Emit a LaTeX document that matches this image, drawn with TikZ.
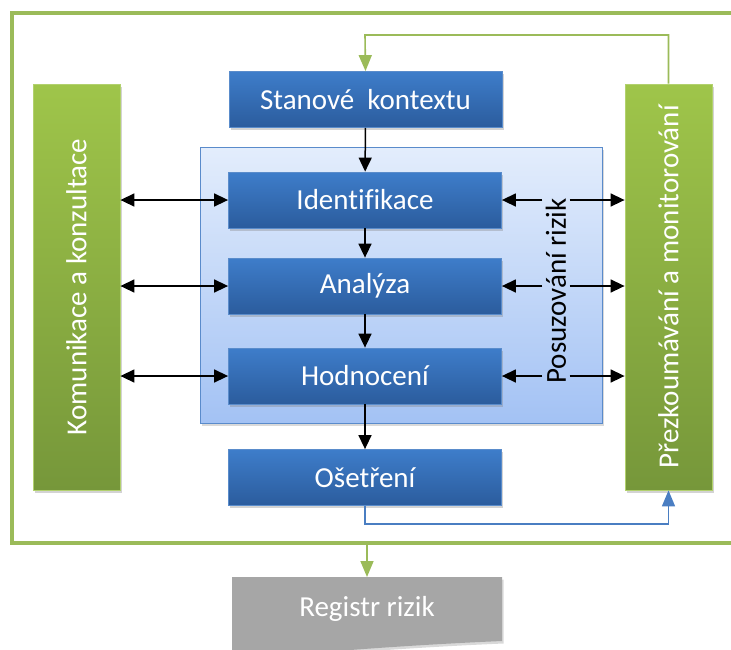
\documentclass[tikz,border=0pt]{standalone}
\usepackage{fontspec}
\setmainfont{Carlito}[Ligatures=NoCommon]
\usetikzlibrary{arrows.meta,shadows}
\definecolor{bluetop}{HTML}{3E7DCA}
\definecolor{bluebot}{HTML}{2B5C9D}
\definecolor{blueedge}{HTML}{5A8CCB}
\definecolor{greentop}{HTML}{9FC54A}
\definecolor{greenbot}{HTML}{76973A}
\definecolor{paneltop}{HTML}{E3EDFC}
\definecolor{panelbot}{HTML}{A3C2F4}
\definecolor{paneledge}{HTML}{5A8BCB}
\definecolor{framegreen}{HTML}{9BBB59}
\definecolor{reggray}{HTML}{A6A6A6}
\definecolor{linkblue}{HTML}{4A7EC2}
\begin{document}
\begin{tikzpicture}[x=1pt, y=-1pt,
    txt/.style={font=\fontsize{29}{32}\selectfont},
    bluebox/.style={txt, text=white, draw=blueedge, line width=0.8pt,
      top color=bluetop, bottom color=bluebot, minimum width=273, minimum height=56,
      drop shadow={opacity=0.35, shadow xshift=1.5pt, shadow yshift=-2.5pt}},
    greenbox/.style={draw=greentop!80!white, line width=0.8pt,
      top color=greentop, bottom color=greenbot, minimum width=87, minimum height=406,
      drop shadow={opacity=0.35, shadow xshift=1.5pt, shadow yshift=-2.5pt}},
    flow/.style={line width=1.5pt, -{Triangle[width=13pt,length=14pt]}},
    both/.style={line width=1.5pt, {Triangle[width=13pt,length=14pt]}-{Triangle[width=13pt,length=14pt]}},
    gline/.style={framegreen, line width=1.6pt, -{Triangle[width=13pt,length=16pt]}},
    bline/.style={linkblue, line width=1.6pt, -{Triangle[width=13pt,length=16pt]}}
    ]
    \useasboundingbox (0,0) rectangle (731,649);
    % outer frame
    \draw[framegreen, line width=4pt] (12,13) rectangle (745,543);
    % risk assessment panel
    \node[draw=paneledge, line width=0.8pt, top color=paneltop, bottom color=panelbot,
      minimum width=402, minimum height=276,
      drop shadow={opacity=0.3, shadow xshift=1.5pt, shadow yshift=-2.5pt}] (panel) at (401,285) {};
    \node[txt, rotate=90] (rizik) at (556,291) {Posuzování rizik};
    % process boxes
    \node[bluebox] (kontext) at (365.5,99.5) {Stanové\ \ kontextu};
    \node[bluebox] (ident) at (365,200) {Identifikace};
    \node[bluebox] (analyza) at (365,286) {Analýza};
    \node[bluebox] (hodnoc) at (365,376) {Hodnocení};
    \node[bluebox] (oset) at (365,477.5) {Ošetření};
    % side boxes
    \node[greenbox] (komun) at (76.5,287) {};
    \node[txt, text=white, rotate=90] at (komun) {Komunikace a konzultace};
    \node[greenbox] (monit) at (668.5,287) {};
    \node[txt, text=white, rotate=90] at (monit) {Přezkoumávání a monitorování};
    % register
    \fill[reggray, drop shadow={opacity=0.3, shadow xshift=1.5pt, shadow yshift=-2.5pt}]
      (232,577) -- (502,577) -- (502,641) .. controls (430,644) and (300,652) .. (232,662) -- cycle;
    \node[txt, text=white, minimum width=270, minimum height=64, anchor=north] (registr) at (367,577) {Registr rizik};
    % main flow
    \draw[flow] (kontext) -- (ident);
    \draw[flow] (ident) -- (analyza);
    \draw[flow] (analyza) -- (hodnoc);
    \draw[flow] (hodnoc) -- (oset);
    % communication
    \foreach \n in {ident, analyza, hodnoc} {
      \draw[both] (komun.east |- \n) -- (\n.west);
      \draw[flow] (\n -| rizik.north) -- (\n.east);
      \draw[flow] (\n -| rizik.south) -- (\n -| monit.west);
    }
    % feedback loops
    \coordinate (fbtop) at (365,35);
    \draw[gline] (monit.north) |- (fbtop) -- (kontext.north);
    \coordinate (fblow) at (365,524);
    \draw[bline] (oset.south) -- (fblow) -| (monit.south);
    \coordinate (framebot) at (367,543);
    \draw[gline] (framebot) -- (registr.north);
  \end{tikzpicture}
\end{document}
